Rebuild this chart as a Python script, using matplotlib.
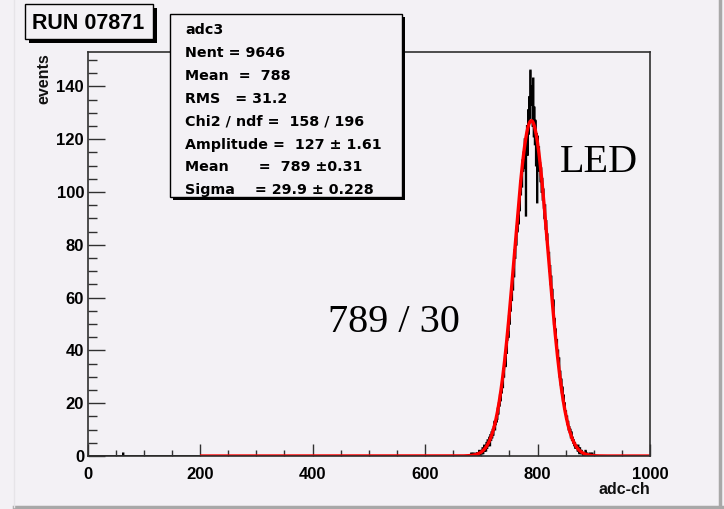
import numpy as np
import matplotlib
matplotlib.use("Agg")
import matplotlib.pyplot as plt
from matplotlib.patches import Rectangle
from matplotlib.lines import Line2D

# ---------------- data ----------------
first_channel = 690
counts_690_889 = [
    0, 1, 0, 1, 0, 0, 2, 1, 0, 1,
    2, 1, 3, 1, 2, 4, 2, 3, 2, 5,
    3, 6, 4, 5, 7, 4, 8, 6, 9, 7,
    10, 8, 11, 13, 10, 12, 15, 13, 14, 18,
    16, 20, 19, 23, 21, 25, 24, 28, 26, 33,
    30, 35, 38, 34, 41, 39, 44, 47, 45, 53,
    50, 57, 55, 61, 59, 66, 63, 70, 68, 78,
    75, 82, 80, 87, 85, 91, 88, 96, 93, 104,
    99, 106, 102, 112, 108, 115, 109, 120, 117, 91,
    118, 125, 114, 131, 122, 136, 128, 146, 133, 140,
    138, 125, 143, 121, 132, 118, 127, 110, 122, 96,
    121, 113, 117, 108, 111, 104, 109, 100, 105, 97,
    101, 94, 90, 95, 86, 89, 82, 84, 79, 75,
    77, 70, 72, 65, 68, 61, 63, 57, 59, 50,
    52, 46, 48, 42, 44, 38, 40, 35, 37, 30,
    32, 27, 29, 24, 26, 21, 23, 18, 20, 16,
    17, 14, 15, 12, 13, 10, 11, 9, 10, 7,
    9, 6, 7, 5, 6, 4, 5, 3, 4, 3,
    3, 2, 4, 2, 1, 3, 2, 1, 2, 1,
    1, 0, 1, 1, 0, 2, 0, 0, 1, 0,
]
stray_channels = [63, 682, 686, 893, 897]
stray_counts = [1, 1, 1, 1, 1]

fit_amplitude = 127.0
fit_mean = 789.0
fit_sigma = 29.9
fit_range = [200, 1000]

stats_lines = [
    "adc3",
    "Nent = 9646",
    "Mean  =  788",
    "RMS   = 31.2",
    "Chi2 / ndf =  158 / 196",
    "Amplitude =  127 \u00b1 1.61",
    "Mean      =  789 \u00b10.31",
    "Sigma    = 29.9 \u00b1 0.228",
]
run_label = "RUN 07871"
peak_label = "789 / 30"
led_label = "LED"
xlabel = "adc-ch"
ylabel = "events"
xticks_major = [0, 200, 400, 600, 800, 1000]
yticks_major = [0, 20, 40, 60, 80, 100, 120, 140]

# ---------------- figure ----------------
W, H = 724, 509
BG = "#f3f1f5"
fig = plt.figure(figsize=(W / 100, H / 100), dpi=100, facecolor=BG)


def fx(px):
    return px / W


def fy(py):
    return 1 - py / H


# pad border (ROOT style)
fig.add_artist(Line2D([fx(14), fx(722)], [fy(507), fy(507)], color="#a8a8a8", lw=2.5))
fig.add_artist(Line2D([fx(720), fx(720)], [fy(0), fy(507)], color="#a8a8a8", lw=2.5))
fig.add_artist(Line2D([fx(14), fx(14)], [fy(0), fy(507)], color="#e6e4e8", lw=1.0))

ax_l, ax_r, ax_t, ax_b = 87.5, 650, 52, 456
ax = fig.add_axes([fx(ax_l), fy(ax_b), fx(ax_r - ax_l), (ax_b - ax_t) / H])
ax.set_facecolor("none")

edges = np.arange(0, 1001)
counts = np.zeros(1000)
counts[first_channel:first_channel + len(counts_690_889)] = counts_690_889
for c, n in zip(stray_channels, stray_counts):
    counts[c] = n
ax.stairs(counts, edges, color="black", lw=1.3, baseline=None)

xf = np.linspace(fit_range[0], fit_range[1], 1601)
yf = fit_amplitude * np.exp(-0.5 * ((xf - fit_mean) / fit_sigma) ** 2)
ax.plot(xf, yf, color="#ff0000", lw=2.4, solid_capstyle="butt")

ax.set_xlim(0, 1000)
ax.set_ylim(0, 153)
ax.set_xticks(xticks_major)
ax.set_xticks(np.arange(0, 1001, 50), minor=True)
ax.set_yticks(yticks_major)
ax.set_yticks(np.arange(0, 153, 5), minor=True)

tick_font = dict(family="Liberation Sans", weight="bold", size=12)
ax.set_xticklabels([str(v) for v in xticks_major], **tick_font)
ax.set_yticklabels([str(v) for v in yticks_major], **tick_font)
ax.tick_params(axis="both", which="both", direction="in", color="#303030", width=1.0)
ax.tick_params(axis="y", which="major", length=12.5, pad=2.5)
ax.tick_params(axis="y", which="minor", length=6.5)
ax.tick_params(axis="x", which="major", length=8.5, pad=8)
ax.tick_params(axis="x", which="minor", length=4.3)
for s in ax.spines.values():
    s.set_color("#303030")
    s.set_linewidth(1.2)

# axis titles
fig.text(fx(44), fy(53), ylabel, rotation=90, ha="center", va="top",
         family="Liberation Sans", weight="bold", fontsize=11.5, color="#111111")
fig.text(fx(650), fy(489), xlabel, ha="right", va="center",
         family="Liberation Sans", weight="bold", fontsize=11.5, color="#111111")

# big annotations
fig.text(fx(394), fy(332), peak_label, ha="center", va="baseline",
         family="Liberation Serif", fontsize=29, color="black")
fig.text(fx(560), fy(172), led_label, ha="left", va="baseline",
         family="Liberation Serif", fontsize=29, color="black")

# RUN box with shadow
fig.add_artist(Rectangle((fx(29), fy(43)), fx(128), (39 - 4) / H, transform=fig.transFigure,
                         facecolor="black", edgecolor="none"))
fig.add_artist(Rectangle((fx(25), fy(39)), fx(128), (39 - 4) / H, transform=fig.transFigure,
                         facecolor=BG, edgecolor="black", lw=1.0))
fig.text(fx(88), fy(29), run_label, ha="center", va="baseline",
         family="Liberation Sans", weight="bold", fontsize=15.5, color="black")

# stats box with shadow
bx_l, bx_t, bx_r, bx_b = 170, 14, 402, 197
fig.add_artist(Rectangle((fx(bx_l + 3), fy(bx_b + 3)), fx(bx_r - bx_l), (bx_b - bx_t) / H,
                         transform=fig.transFigure, facecolor="black", edgecolor="none"))
fig.add_artist(Rectangle((fx(bx_l), fy(bx_b)), fx(bx_r - bx_l), (bx_b - bx_t) / H,
                         transform=fig.transFigure, facecolor=BG, edgecolor="black", lw=1.0))
for i, line in enumerate(stats_lines):
    fig.text(fx(185), fy(34.5 + i * 22.8), line, ha="left", va="baseline",
             family="DejaVu Sans", weight="bold", fontsize=10.3, color="black")

fig.savefig("out.png", dpi=100, facecolor=BG)
